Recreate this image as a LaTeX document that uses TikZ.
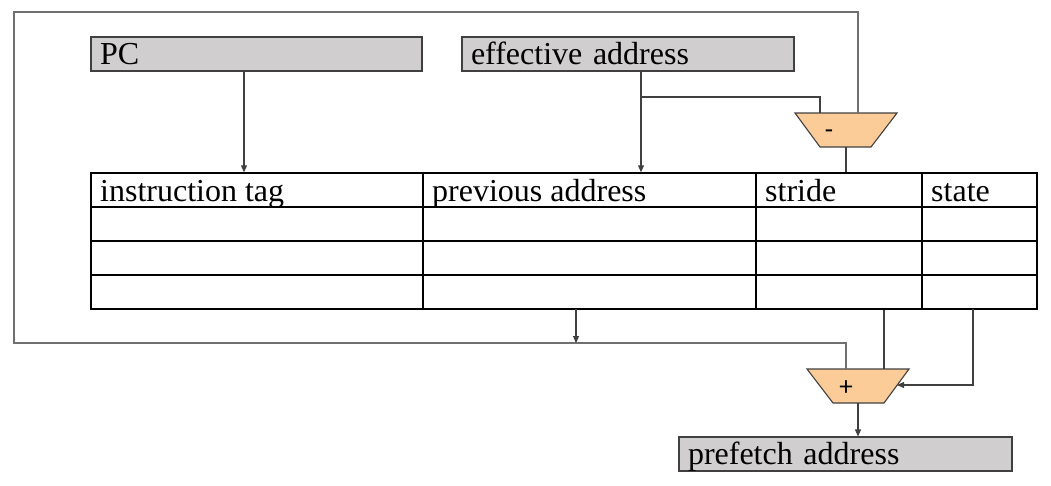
\documentclass[tikz,border=0pt]{standalone}
\usepackage{fontspec}
\setmainfont{Liberation Serif}
\newfontfamily\opfont{Carlito}
\usetikzlibrary{arrows.meta}
\definecolor{boxgray}{HTML}{D0CECE}
\definecolor{peach}{HTML}{FBCB98}
\definecolor{loopgray}{HTML}{707070}
\definecolor{linegray}{HTML}{404040}
\begin{document}
\begin{tikzpicture}[x=1pt,y=-1pt,
  regbox/.style={draw=linegray,line width=1.1pt,fill=boxgray,minimum height=34pt,
    inner xsep=9pt,inner ysep=0pt,text height=21pt,text depth=0pt,align=left,
    font=\fontsize{32}{36}\selectfont},
  hdr/.style={anchor=base west,inner sep=0pt,font=\fontsize{32}{36}\selectfont},
  conn/.style={draw=linegray,line width=1.1pt},
  arr/.style={conn,-{Triangle[length=7pt,width=6pt]}},
  loopline/.style={draw=loopgray,line width=1.2pt},
  alu/.style={draw=linegray,line width=1.1pt,fill=peach},
  grid/.style={draw=black,line width=1.4pt},
  op/.style={inner sep=0pt,font=\opfont\fontsize{27}{30}\selectfont}]
\useasboundingbox (0,0) rectangle (1051,485);

% register boxes
\node[regbox,minimum width=331pt,text width=313pt] (pc) at (256.5,54) {PC};
\node[regbox,minimum width=332pt,text width=314pt] (ea) at (628,54) {effective address};
\node[regbox,minimum width=333pt,text width=315pt] (pf) at (845.5,454) {prefetch address};

% table
\node[grid,minimum width=946pt,minimum height=136pt,inner sep=0pt] (tab) at (564,241) {};
\draw[grid] (91,207) -- (1037,207) (91,241) -- (1037,241) (91,275) -- (1037,275);
\draw[grid] (423,173) -- (423,309) (756,173) -- (756,309) (922,173) -- (922,309);
\node[hdr] (htag) at (100,201) {instruction tag};
\node[hdr] (hprev) at (432,201) {previous address};
\node[hdr] (hstride) at (765,201) {stride};
\node[hdr] (hstate) at (931,201) {state};

% ALUs
\draw[alu] (795,113) -- (897,113) -- (871,147) -- (820,147) -- cycle;
\node[op] (minus) at (829,134) {-};
\draw[alu] (807,369) -- (909,369) -- (884,403) -- (833,403) -- cycle;
\node[op] (plus) at (846,388) {+};

% connection points
\coordinate (mtopR) at (858,113);
\coordinate (mtopL) at (820,113);
\coordinate (mout) at (846,147);
\coordinate (ptopL) at (846,369);
\coordinate (ptopR) at (884,369);
\coordinate (pright) at (897,385);
\coordinate (pout) at (858,403);
\coordinate (pcout) at (244,71);
\coordinate (eaout) at (641,71);
\coordinate (eabr) at (641,97);

% connectors
\draw[arr] (pcout) -- (pcout |- tab.north);
\draw[arr] (eaout) -- (eaout |- tab.north);
\draw[conn] (eabr) -| (mtopL);
\draw[conn] (mout) -- (mout |- tab.north);
\draw[loopline] (mtopR) -- (858,12) -- (14,12) -- (14,343) -- (846,343) -- (ptopL);
\draw[arr] (576,309) -- (576,343);
\draw[conn] (ptopR |- tab.south) -- (ptopR);
\draw[arr] (973,309) |- (pright);
\draw[arr] (pout) -- (pout |- pf.north);
\end{tikzpicture}
\end{document}
